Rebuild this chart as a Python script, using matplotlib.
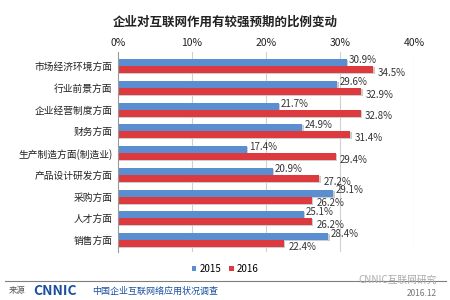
import numpy as np
import matplotlib.pyplot as plt

plt.rcParams['font.family'] = ['Noto Sans CJK SC', 'DejaVu Sans']

# data
categories = ['市场经济环境方面', '行业前景方面', '企业经营制度方面', '财务方面',
              '生产制造方面(制造业)', '产品设计研发方面', '采购方面', '人才方面', '销售方面']
v2015 = [30.9, 29.6, 21.7, 24.9, 17.4, 20.9, 29.1, 25.1, 28.4]
v2016 = [34.5, 32.9, 32.8, 31.4, 29.4, 27.2, 26.2, 26.2, 22.4]
xticks = [0, 10, 20, 30, 40]

blue = '#5b8ed0'
red = '#dc3a3e'

fig = plt.figure(figsize=(4.5, 3), dpi=100)
ax = fig.add_axes([118 / 450, 1 - 252 / 300, (414 - 118) / 450, (252 - 52) / 300])

y = np.arange(len(categories))
h = 0.32
# light shadow under bars
ax.barh(y - h / 2 + 0.05, v2015, height=h, color='#cccccc', zorder=1, left=0.2)
ax.barh(y + h / 2 + 0.05, v2016, height=h, color='#cccccc', zorder=1, left=0.2)
ax.barh(y - h / 2, v2015, height=h, color=blue, label='2015', zorder=2)
ax.barh(y + h / 2, v2016, height=h, color=red, label='2016', zorder=2)

for i in range(len(categories)):
    ax.text(v2015[i] + 0.3, y[i] - h / 2 - 0.12, f'{v2015[i]}%', fontsize=7,
            color='#333333', va='center', ha='left')
    ax.text(v2016[i] + 0.6, y[i] + h / 2 + 0.15, f'{v2016[i]}%', fontsize=7,
            color='#333333', va='center', ha='left')

ax.set_xlim(0, 40)
ax.set_ylim(len(categories) - 0.45, -0.65)
ax.set_yticks(y)
ax.set_yticklabels(categories, fontsize=7, color='#222222')
ax.set_xticks(xticks)
ax.set_xticklabels([f'{t}%' for t in xticks], fontsize=7.5, color='#222222')
ax.xaxis.tick_top()
ax.tick_params(axis='both', length=0, pad=3)
ax.tick_params(axis='y', pad=4)
for t in xticks[1:]:
    ax.axvline(t, color='#d0d0d0', lw=0.8, zorder=0)
for s in ['top', 'right', 'bottom']:
    ax.spines[s].set_visible(False)
ax.spines['left'].set_color('#999999')

fig.text(0.5, 1 - 22 / 300, '企业对互联网作用有较强预期的比例变动', ha='center', va='center',
         fontsize=9, fontweight='bold', color='#222222')

fig.legend(loc='center', bbox_to_anchor=(0.5, 1 - 269 / 300), ncol=2, fontsize=7,
           frameon=False, handlelength=0.5, handleheight=0.5, columnspacing=0.8,
           handletextpad=0.3)

fig.add_artist(plt.Line2D([0.01, 0.99], [1 - 281 / 300, 1 - 281 / 300], color='#7f7f7f', lw=0.8))
fig.text(0.02, 1 - 291 / 300, '来源', fontsize=6, color='#555555', va='center')
fig.text(0.075, 1 - 291 / 300, 'CNNIC', fontsize=10, fontweight='bold', color='#1a4fa0', va='center')
fig.text(0.205, 1 - 291 / 300, '中国企业互联网络应用状况调查', fontsize=6.5, color='#1a4fa0', va='center')
fig.text(0.97, 1 - 280 / 300, 'CNNIC互联网研究', fontsize=7, color='#aaaaaa', va='center', ha='right')
fig.text(0.97, 1 - 293 / 300, '2016.12', fontsize=6, color='#777777', va='center', ha='right')

fig.savefig('out.png', dpi=100)
